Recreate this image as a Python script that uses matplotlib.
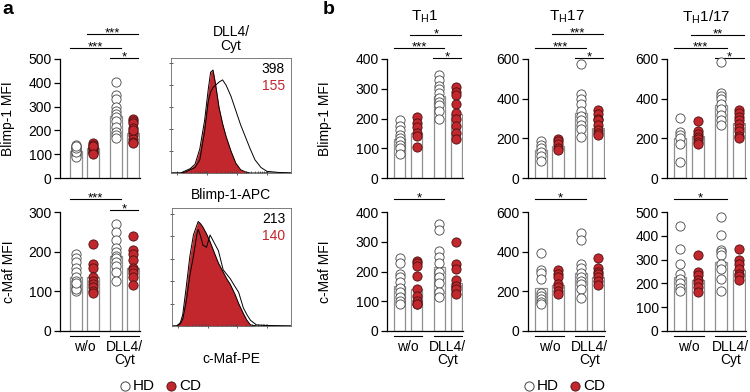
import matplotlib
matplotlib.use('Agg')
import matplotlib.pyplot as plt
import numpy as np
from matplotlib.transforms import blended_transform_factory

plt.rcParams['font.family'] = ['Liberation Sans', 'DejaVu Sans']
plt.rcParams['mathtext.fontset'] = 'custom'
plt.rcParams['mathtext.rm'] = 'Liberation Sans'
plt.rcParams['mathtext.it'] = 'Liberation Sans'

RED = '#c1272d'
W, H = 750, 392

# ---------------- data ----------------
conditions = ['w/o', 'DLL4/\nCyt']
donors = ['HD', 'CD']

# panel a, Blimp-1 MFI (bars: HD w/o, CD w/o, HD DLL4, CD DLL4)
a_blimp_bars = [115, 125, 260, 190]
a_blimp_hd_wo = [140, 130, 120, 115, 105, 95, 90, 110, 125, 135]
a_blimp_cd_wo = [145, 140, 130, 125, 120, 115, 110, 105, 135, 100]
a_blimp_hd_dll = [405, 350, 330, 300, 280, 270, 255, 240, 215, 195, 180, 170]
a_blimp_cd_dll = [250, 240, 230, 210, 195, 180, 165, 150, 145, 200]

# panel a, c-Maf MFI
a_cmaf_bars = [135, 135, 190, 160]
a_cmaf_hd_wo = [195, 185, 175, 160, 150, 135, 125, 115, 108, 100, 105, 120]
a_cmaf_cd_wo = [220, 168, 160, 135, 125, 118, 110, 100, 95]
a_cmaf_hd_dll = [270, 250, 230, 210, 200, 190, 185, 175, 165, 150, 125]
a_cmaf_cd_dll = [240, 205, 195, 180, 160, 155, 145, 135, 115]

# panel b, TH1
th1_blimp_bars = [130, 150, 275, 215]
th1_blimp_hd_wo = [195, 175, 160, 145, 135, 125, 110, 100, 80]
th1_blimp_cd_wo = [205, 185, 170, 150, 140, 105]
th1_blimp_hd_dll = [345, 330, 310, 300, 285, 270, 255, 245, 225, 200]
th1_blimp_cd_dll = [305, 290, 280, 250, 220, 200, 175, 150, 130]
th1_cmaf_bars = [150, 140, 215, 160]
th1_cmaf_hd_wo = [245, 230, 190, 180, 165, 145, 130, 115, 100, 90]
th1_cmaf_cd_wo = [235, 228, 220, 185, 140, 118, 100, 92, 90]
th1_cmaf_hd_dll = [360, 340, 270, 250, 230, 200, 180, 160, 130, 115]
th1_cmaf_cd_dll = [300, 225, 210, 170, 150, 140, 125]

# panel b, TH17
th17_blimp_bars = [140, 160, 330, 250]
th17_blimp_hd_wo = [185, 165, 150, 130, 110, 85]
th17_blimp_cd_wo = [195, 185, 170, 150, 140]
th17_blimp_hd_dll = [575, 425, 400, 375, 340, 315, 290, 265, 245, 205]
th17_blimp_cd_dll = [345, 325, 300, 290, 265, 240, 225, 215]
th17_cmaf_bars = [215, 230, 290, 270]
th17_cmaf_hd_wo = [395, 310, 290, 260, 190, 175, 160, 145, 135]
th17_cmaf_cd_wo = [310, 285, 270, 235, 220, 200, 185]
th17_cmaf_hd_dll = [495, 460, 340, 320, 290, 270, 250, 235, 210, 165]
th17_cmaf_cd_dll = [370, 320, 300, 285, 270, 250, 230]

# panel b, TH1/17
th117_blimp_bars = [200, 210, 370, 275]
th117_blimp_hd_wo = [305, 230, 215, 200, 170, 80]
th117_blimp_cd_wo = [285, 235, 220, 205, 195, 180, 170]
th117_blimp_hd_dll = [585, 430, 415, 400, 375, 350, 320, 290, 265]
th117_blimp_cd_dll = [345, 330, 310, 290, 270, 250, 235, 210, 200]
th117_cmaf_bars = [225, 215, 290, 255]
th117_cmaf_hd_wo = [440, 345, 280, 240, 220, 200, 180, 170]
th117_cmaf_cd_wo = [320, 250, 235, 215, 200, 185, 165]
th117_cmaf_hd_dll = [480, 405, 340, 330, 320, 280, 260, 220, 170]
th117_cmaf_cd_dll = [345, 300, 280, 260, 240, 230, 215]

# histograms (normalised to mode), x = fraction of axis
hist_x_blimp = [0.0, 0.08, 0.12, 0.16, 0.20, 0.24, 0.28, 0.31, 0.33, 0.35, 0.37, 0.40,
                0.43, 0.46, 0.50, 0.54, 0.58, 0.62, 0.66, 0.70, 0.75, 0.80, 0.90, 1.0]
hist_blimp_cd = [0.0, 0.0, 0.02, 0.04, 0.08, 0.22, 0.48, 0.76, 0.92, 0.94, 0.82, 0.60,
                 0.45, 0.33, 0.20, 0.09, 0.03, 0.01, 0.0, 0.0, 0.0, 0.0, 0.0, 0.0]
hist_blimp_hd = [0.0, 0.0, 0.01, 0.03, 0.05, 0.12, 0.38, 0.65, 0.74, 0.78, 0.80, 0.83,
                 0.85, 0.80, 0.70, 0.57, 0.44, 0.33, 0.22, 0.12, 0.05, 0.015, 0.005, 0.0]
hist_x_cmaf = [0.0, 0.04, 0.07, 0.09, 0.12, 0.15, 0.18, 0.21, 0.22, 0.24, 0.26, 0.29,
               0.32, 0.36, 0.39, 0.43, 0.46, 0.49, 0.53, 0.56, 0.60, 0.63, 0.66, 0.71, 0.80, 1.0]
hist_cmaf_cd = [0.0, 0.0, 0.03, 0.10, 0.35, 0.62, 0.81, 0.90, 0.93, 0.91, 0.88, 0.82,
                0.75, 0.64, 0.56, 0.48, 0.42, 0.37, 0.28, 0.20, 0.11, 0.05, 0.01, 0.0, 0.0, 0.0]
hist_cmaf_hd = [0.0, 0.0, 0.02, 0.06, 0.22, 0.45, 0.62, 0.82, 0.86, 0.80, 0.72, 0.70,
                0.81, 0.73, 0.67, 0.50, 0.46, 0.42, 0.35, 0.30, 0.16, 0.10, 0.05, 0.01, 0.005, 0.0]
hist_blimp_labels = ['398', '155']
hist_cmaf_labels = ['213', '140']

# ---------------- layout helpers ----------------
fig = plt.figure(figsize=(7.5, 3.92), dpi=100)
FS = 10

def px_axes(l, t, r, b):
    return fig.add_axes([l / W, 1 - b / H, (r - l) / W, (b - t) / H])

bar_x = [0, 1, 2.35, 3.35]
BW = 0.68
TOP = (59, 178)
BOT = (212, 331)

def bar_panel(ax, bars, pts, ymax, step, sigs, xl, bottom_row):
    for x, m in zip(bar_x, bars):
        ax.bar(x, m, width=BW, color='white', edgecolor='#8f8f8f', lw=0.9, zorder=1)
    for i, p in enumerate(pts):
        hd = (i % 2 == 0)
        ax.scatter(np.full(len(p), bar_x[i]), p, s=44,
                   facecolor='white' if hd else RED,
                   edgecolor='#444444' if hd else '#4a1010', lw=0.6, zorder=3, clip_on=False)
    ax.set_ylim(0, ymax)
    ax.set_yticks(np.arange(0, ymax + 1, step))
    ax.set_xlim(xl, 3.75)
    ax.set_xticks([])
    for s in ['top', 'right']:
        ax.spines[s].set_visible(False)
    for s in ['left', 'bottom']:
        ax.spines[s].set_linewidth(0.9)
    ax.tick_params(axis='y', direction='out', length=4.5, width=0.9, labelsize=FS, pad=1.5)
    tr = blended_transform_factory(ax.transData, ax.transAxes)
    rows = BOT if bottom_row else TOP
    hpx = rows[1] - rows[0]
    for (i, j, label, ypx) in sigs:
        yf = (rows[1] - ypx) / hpx
        ax.plot([bar_x[i] - 0.36, bar_x[j] + 0.3], [yf, yf], color='black', lw=0.8,
                transform=tr, clip_on=False)
        ax.text((bar_x[i] - 0.36 + bar_x[j] + 0.3) / 2, yf - 2.5 / hpx, label, transform=tr,
                ha='center', va='baseline', fontsize=9.5)
    if bottom_row:
        yg = -4.5 / hpx
        for g in range(2):
            ax.plot([bar_x[2 * g] - BW / 2, bar_x[2 * g + 1] + BW / 2], [yg, yg], color='black',
                    lw=0.8, transform=tr, clip_on=False)
            ax.text((bar_x[2 * g] + bar_x[2 * g + 1]) / 2, (rows[1] - 340) / hpx, conditions[g],
                    transform=tr, ha='center', va='top', fontsize=FS, linespacing=0.95)

# panel a bar charts
ax = px_axes(60, TOP[0], 140, TOP[1])
bar_panel(ax, a_blimp_bars, [a_blimp_hd_wo, a_blimp_cd_wo, a_blimp_hd_dll, a_blimp_cd_dll],
          500, 100, [(0, 2, '***', 48), (1, 3, '***', 34), (2, 3, '*', 58)], -0.95, False)
ax.set_ylabel('Blimp-1 MFI', fontsize=FS)
ax.yaxis.set_label_coords(-0.56, 0.5)

ax = px_axes(60, BOT[0], 140, BOT[1])
bar_panel(ax, a_cmaf_bars, [a_cmaf_hd_wo, a_cmaf_cd_wo, a_cmaf_hd_dll, a_cmaf_cd_dll],
          300, 100, [(0, 2, '***', 199), (2, 3, '*', 210)], -0.95, True)
ax.set_ylabel('c-Maf MFI', fontsize=FS)
ax.yaxis.set_label_coords(-0.55, 0.5)

# histograms
def hist_panel(ax, x, cd, hd, labels):
    ax.fill_between(x, cd, color=RED, lw=0, zorder=1)
    ax.plot(x, cd, color='black', lw=0.7, zorder=2)
    ax.plot(x, hd, color='black', lw=0.7, zorder=2)
    ax.set_xlim(0, 1)
    ax.set_ylim(0, 1.05)
    for s in ax.spines.values():
        s.set_linewidth(0.6)
        s.set_color('#666666')
    ax.set_yticks([0.2, 0.4, 0.6, 0.8, 1.0])
    ax.set_yticklabels([])
    major = [0.05, 0.3, 0.55, 0.8]
    minor = []
    for d in major[:-1]:
        for k in range(2, 10):
            minor.append(d + 0.25 * np.log10(k))
    ax.set_xticks(major)
    ax.set_xticks(minor, minor=True)
    ax.set_xticklabels([])
    ax.tick_params(axis='both', which='major', direction='inout', length=3, width=0.6, color='#444444')
    ax.tick_params(axis='x', which='minor', direction='in', length=1.6, width=0.5, color='#444444')
    ax.text(0.95, 0.965, labels[0], transform=ax.transAxes, ha='right', va='top', fontsize=FS,
            color='black')
    ax.text(0.95, 0.82, labels[1], transform=ax.transAxes, ha='right', va='top', fontsize=FS,
            color=RED)

ax = px_axes(171, 58, 291, 173)
hist_panel(ax, hist_x_blimp, hist_blimp_cd, hist_blimp_hd, hist_blimp_labels)
ax.set_title('DLL4/\nCyt', fontsize=FS, pad=6, linespacing=0.95)
ax.set_xlabel('Blimp-1-APC', fontsize=FS, labelpad=6)

ax = px_axes(172, 208, 291, 326)
hist_panel(ax, hist_x_cmaf, hist_cmaf_cd, hist_cmaf_hd, hist_cmaf_labels)
ax.set_xlabel('c-Maf-PE', fontsize=FS, labelpad=14)

# panel b
titles = [r'T$_{\mathrm{H}}$1', r'T$_{\mathrm{H}}$17', r'T$_{\mathrm{H}}$1/17']
xpos = [(387, 463), (528, 605), (667, 746)]
top_data = [
    (th1_blimp_bars, [th1_blimp_hd_wo, th1_blimp_cd_wo, th1_blimp_hd_dll, th1_blimp_cd_dll], 400, 100,
     [(0, 2, '***', 48), (1, 3, '*', 35), (2, 3, '*', 58)]),
    (th17_blimp_bars, [th17_blimp_hd_wo, th17_blimp_cd_wo, th17_blimp_hd_dll, th17_blimp_cd_dll], 600, 200,
     [(0, 2, '***', 48), (1, 3, '***', 34), (2, 3, '*', 58)]),
    (th117_blimp_bars, [th117_blimp_hd_wo, th117_blimp_cd_wo, th117_blimp_hd_dll, th117_blimp_cd_dll], 600, 200,
     [(0, 2, '***', 48), (1, 3, '**', 35), (2, 3, '*', 58)]),
]
bot_data = [
    (th1_cmaf_bars, [th1_cmaf_hd_wo, th1_cmaf_cd_wo, th1_cmaf_hd_dll, th1_cmaf_cd_dll], 400, 100,
     [(0, 2, '*', 199)]),
    (th17_cmaf_bars, [th17_cmaf_hd_wo, th17_cmaf_cd_wo, th17_cmaf_hd_dll, th17_cmaf_cd_dll], 600, 200,
     [(0, 2, '*', 199)]),
    (th117_cmaf_bars, [th117_cmaf_hd_wo, th117_cmaf_cd_wo, th117_cmaf_hd_dll, th117_cmaf_cd_dll], 500, 100,
     [(0, 2, '*', 199)]),
]
for k in range(3):
    l, r = xpos[k]
    ax = px_axes(l, TOP[0], r, TOP[1])
    bars, pts, ymax, step, sigs = top_data[k]
    bar_panel(ax, bars, pts, ymax, step, sigs, -0.75, False)
    fig.text((l + r) / 2 / W, 1 - 17 / H, titles[k], ha='center', va='center', fontsize=11)
    if k == 0:
        ax.set_ylabel('Blimp-1 MFI', fontsize=FS)
        ax.yaxis.set_label_coords(-0.72, 0.5)
    ax = px_axes(l, BOT[0], r, BOT[1])
    bars, pts, ymax, step, sigs = bot_data[k]
    bar_panel(ax, bars, pts, ymax, step, sigs, -0.75, True)
    if k == 0:
        ax.set_ylabel('c-Maf MFI', fontsize=FS)
        ax.yaxis.set_label_coords(-0.72, 0.5)

# panel letters
fig.text(2 / W, 1 - 10 / H, 'a', fontsize=14, fontweight='bold', ha='left', va='center')
fig.text(323 / W, 1 - 10 / H, 'b', fontsize=14, fontweight='bold', ha='left', va='center')

# legends (overlay axes in pixel coordinates)
ov = fig.add_axes([0, 0, 1, 1])
ov.set_xlim(0, W)
ov.set_ylim(H, 0)
ov.axis('off')
for cx in [125, 529]:
    ov.scatter([cx], [386], s=44, facecolor='white', edgecolor='#444444', lw=0.7)
    ov.text(cx + 8, 386, donors[0], ha='left', va='center', fontsize=11)
    ov.scatter([cx + 46], [386], s=44, facecolor=RED, edgecolor='#4a1010', lw=0.6)
    ov.text(cx + 54, 386, donors[1], ha='left', va='center', fontsize=11)

fig.savefig('out.png', dpi=100)
